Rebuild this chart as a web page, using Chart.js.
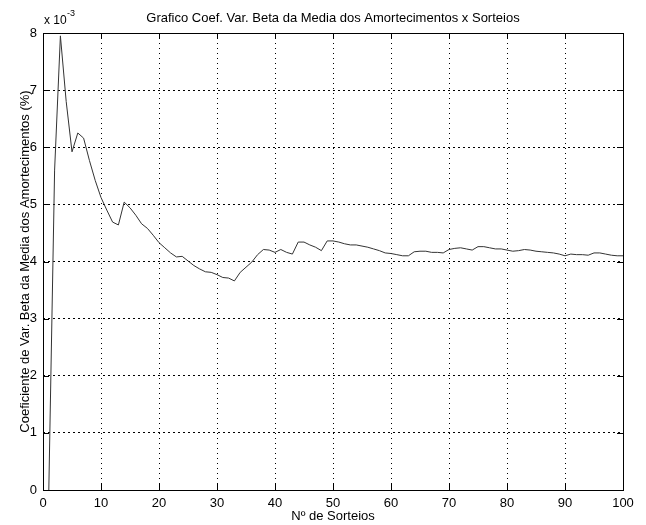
<!DOCTYPE html>
<html>
<head>
<meta charset="utf-8">
<script src="https://cdn.jsdelivr.net/npm/chart.js@4/dist/chart.umd.min.js"></script>
<style>
  body { margin: 0; background: #fff; }
  #wrap { width: 646px; height: 525px; }
</style>
</head>
<body>
<div id="wrap"><canvas id="zgchart" width="646" height="525"></canvas></div>
<script>
// coeficiente de variacao (x 10^-3) por numero de sorteios
var sorteios = [];
for (var n = 1; n <= 100; n++) { sorteios.push(n); }

var coefvar = [
  0.00, 5.60, 7.95, 6.80, 5.92, 6.25, 6.16, 5.77, 5.42, 5.12,
  4.90, 4.69, 4.64, 5.04, 4.94, 4.81, 4.66, 4.58, 4.46, 4.33,
  4.24, 4.15, 4.08, 4.09, 4.01, 3.93, 3.87, 3.82, 3.81, 3.77,
  3.72, 3.71, 3.66, 3.81, 3.90, 3.99, 4.12, 4.21, 4.20, 4.16,
  4.21, 4.16, 4.13, 4.34, 4.34, 4.29, 4.25, 4.19, 4.36, 4.36,
  4.34, 4.31, 4.29, 4.29, 4.27, 4.25, 4.22, 4.19, 4.15, 4.14,
  4.12, 4.10, 4.10, 4.17, 4.18, 4.18, 4.16, 4.16, 4.15, 4.21,
  4.23, 4.24, 4.22, 4.20, 4.26, 4.26, 4.24, 4.22, 4.22, 4.20,
  4.18, 4.19, 4.21, 4.20, 4.18, 4.17, 4.16, 4.15, 4.13, 4.10,
  4.13, 4.12, 4.12, 4.11, 4.15, 4.15, 4.13, 4.11, 4.10, 4.10
];

var xticks = [0, 10, 20, 30, 40, 50, 60, 70, 80, 90, 100];
var yticks = [0, 1, 2, 3, 4, 5, 6, 7, 8];

var charttitle = "Grafico Coef. Var. Beta da Media dos Amortecimentos x Sorteios";
var xtitle = "Nº de Sorteios";
var ytitle = "Coeficiente de Var. Beta da Media dos Amortecimentos (%)";

var zgfont = "'Liberation Sans', Arial, Helvetica, sans-serif";

//box, inner ticks and texts (matlab style)
var zgframe = {
  id: "zgframe",
  afterDraw: function(chart) {
    var ctx = chart.ctx;
    var area = chart.chartArea;
    var sx = chart.scales.x;
    var sy = chart.scales.y;
    ctx.save();
    ctx.strokeStyle = "#000";
    ctx.lineWidth = 1;
    ctx.setLineDash([]);
    ctx.beginPath();
    xticks.forEach(function(v) {
      var px = Math.round(sx.getPixelForValue(v)) + 0.5;
      ctx.moveTo(px, area.bottom); ctx.lineTo(px, area.bottom - 6);
      ctx.moveTo(px, area.top); ctx.lineTo(px, area.top + 6);
    });
    yticks.forEach(function(v) {
      var py = Math.round(sy.getPixelForValue(v)) + 0.5;
      ctx.moveTo(area.left, py); ctx.lineTo(area.left + 6, py);
      ctx.moveTo(area.right, py); ctx.lineTo(area.right - 6, py);
    });
    ctx.stroke();
    ctx.strokeRect(Math.round(area.left) + 0.5, Math.round(area.top) + 0.5,
      Math.round(area.right - area.left), Math.round(area.bottom - area.top));

    ctx.fillStyle = "#000";
    ctx.font = "13px " + zgfont;
    ctx.textAlign = "center";
    ctx.textBaseline = "middle";
    ctx.fillText(charttitle, (area.left + area.right) / 2, 18);
    ctx.fillText(xtitle, (area.left + area.right) / 2, 516);

    ctx.save();
    ctx.translate(25, (area.top + area.bottom) / 2);
    ctx.rotate(-Math.PI / 2);
    ctx.fillText(ytitle, 0, 0);
    ctx.restore();

    ctx.textAlign = "left";
    ctx.font = "12px " + zgfont;
    ctx.fillText("x 10", 44, 21);
    ctx.font = "9px " + zgfont;
    ctx.fillText("-3", 67, 14);
    ctx.restore();
  }
};

new Chart(document.getElementById("zgchart"), {
  type: "line",
  data: {
    datasets: [{
      data: sorteios.map((s, i) => ({x: s, y: coefvar[i]})),
      borderColor: "#333",
      borderWidth: 1,
      pointRadius: 0,
      tension: 0,
      fill: false
    }]
  },
  options: {
    responsive: false,
    animation: false,
    layout: { padding: { top: 33, right: 23, left: 0, bottom: 0 } },
    plugins: { legend: { display: false }, title: { display: false }, tooltip: { enabled: false } },
    scales: {
      x: {
        type: "linear", min: 0, max: 100,
        afterFit: function(s) { s.height = 35; },
        afterBuildTicks: function(s) { s.ticks = xticks.map(v => ({value: v})); },
        ticks: { color: "#000", padding: 6, maxRotation: 0, autoSkip: false, font: { size: 13, family: zgfont } },
        grid: { color: "#000", lineWidth: 1, drawTicks: false, tickLength: 0 },
        border: { display: false, dash: [1, 4] }
      },
      y: {
        min: 0, max: 8,
        afterFit: function(s) { s.width = 43; },
        afterBuildTicks: function(s) { s.ticks = yticks.map(v => ({value: v})); },
        ticks: { color: "#000", padding: 6, font: { size: 13, family: zgfont } },
        grid: { color: "#000", lineWidth: 1, drawTicks: false, tickLength: 0 },
        border: { display: false, dash: [2, 3] }
      }
    }
  },
  plugins: [zgframe]
});
</script>
</body>
</html>
